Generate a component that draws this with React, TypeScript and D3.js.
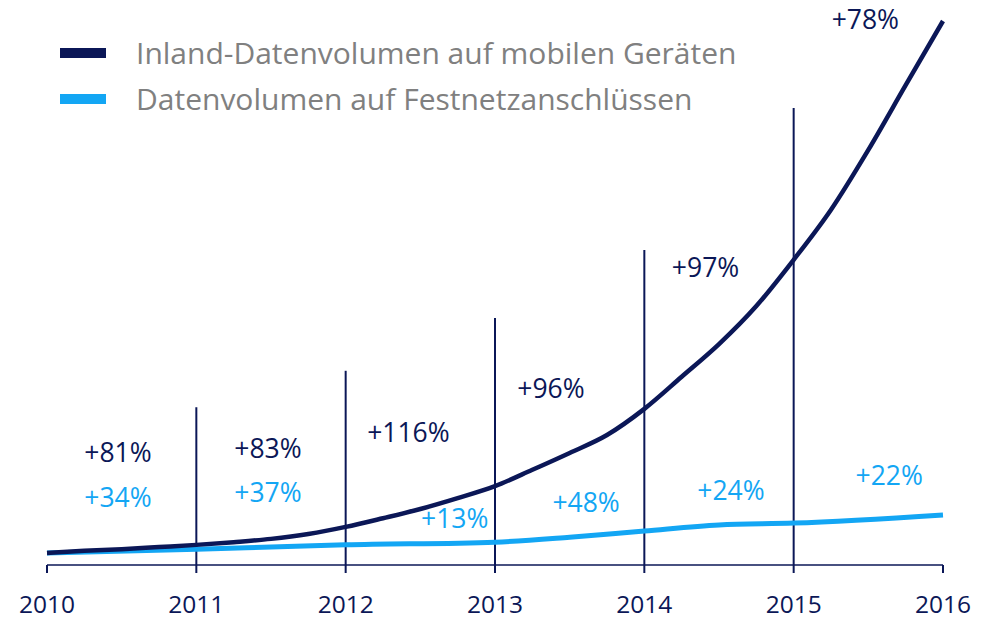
import React from "react";
import * as d3 from "d3";

const years = [2010, 2011, 2012, 2013, 2014, 2015, 2016];
const yearLabels = ["2010", "2011", "2012", "2013", "2014", "2015", "2016"];

// index values (mobile 2016 = 100)
const mobileX = [2010, 2010.25, 2010.5, 2010.75, 2011, 2011.25, 2011.5, 2011.75, 2012, 2012.25, 2012.5, 2012.75, 2013, 2013.25, 2013.5, 2013.75, 2014, 2014.25, 2014.5, 2014.75, 2015, 2015.25, 2015.5, 2015.75, 2016];
const mobileY = [2.2, 2.6, 2.9, 3.3, 3.7, 4.2, 4.8, 5.7, 7.0, 8.6, 10.3, 12.3, 14.5, 17.5, 20.6, 23.9, 28.7, 34.6, 40.6, 47.6, 56.1, 65.3, 76.3, 88.2, 100];

const fixedX = [2010, 2011, 2011.5, 2012, 2013, 2013.5, 2014, 2014.5, 2015, 2016];
const fixedY = [2.2, 2.9, 3.3, 3.7, 4.2, 5.1, 6.25, 7.35, 7.7, 9.2];

const dividerYears = [2011, 2012, 2013, 2014, 2015];
const dividerTops = [29.0, 35.7, 45.4, 57.9, 84.0];

const mobileLabels = ["+81%", "+83%", "+116%", "+96%", "+97%", "+78%"];
const mobileLabelX = [2010.475, 2011.48, 2012.42, 2013.375, 2014.41, 2015.48];
const mobileLabelY = [20.6, 21.3, 24.3, 32.4, 54.6, 100.2];

const fixedLabels = ["+34%", "+37%", "+13%", "+48%", "+24%", "+22%"];
const fixedLabelX = [2010.475, 2011.48, 2012.73, 2013.61, 2014.58, 2015.64];
const fixedLabelY = [12.3, 13.2, 8.5, 11.4, 13.6, 16.4];

const seriesNames = ["Inland-Datenvolumen auf mobilen Geräten", "Datenvolumen auf Festnetzanschlüssen"];

const DARK = "#0b1757";
const LIGHT = "#13a6f4";
const GRAY = "#808080";
const FONT = "'Open Sans', sans-serif";

export default function App() {
  const W = 989, H = 620;
  const x = d3.scaleLinear().domain([2010, 2016]).range([47, 943]);
  const y = d3.scaleLinear().domain([0, 100]).range([565, 21]);

  const line = d3
    .line<[number, number]>()
    .x((d) => x(d[0]))
    .y((d) => y(d[1]))
    .curve(d3.curveMonotoneX);

  const mobilePts: [number, number][] = mobileX.map((v, i) => [v, mobileY[i]]);
  const fixedPts: [number, number][] = fixedX.map((v, i) => [v, fixedY[i]]);

  const legendColors = [DARK, LIGHT];

  return (
    <svg width={W} height={H} style={{ position: "absolute", left: 0, top: 0, background: "#fff" }} fontFamily={FONT}>
      {/* legend */}
      {seriesNames.map((name, i) => (
        <g key={name} transform={`translate(0, ${53 + i * 46})`}>
          <rect x={60} y={-5} width={46} height={10} fill={legendColors[i]} />
          <text x={136} y={0} dy="0.35em" fontSize={30} fill={GRAY}>
            {name}
          </text>
        </g>
      ))}

      {/* dividers */}
      {dividerYears.map((yr, i) => (
        <line key={yr} x1={x(yr)} x2={x(yr)} y1={y(dividerTops[i])} y2={y(0)} stroke={DARK} strokeWidth={2} />
      ))}

      {/* axis */}
      <line x1={x(2010)} x2={x(2016)} y1={y(0)} y2={y(0)} stroke={DARK} strokeWidth={1.5} />
      {years.map((yr, i) => (
        <g key={yr}>
          <line x1={x(yr)} x2={x(yr)} y1={y(0)} y2={y(0) + 8} stroke={DARK} strokeWidth={2} />
          <text x={x(yr)} y={613} textAnchor="middle" fontSize={24.5} fill={DARK}>
            {yearLabels[i]}
          </text>
        </g>
      ))}

      {/* lines */}
      <path d={line(fixedPts) || ""} fill="none" stroke={LIGHT} strokeWidth={5} />
      <path d={line(mobilePts) || ""} fill="none" stroke={DARK} strokeWidth={4.5} />

      {/* labels */}
      {mobileLabels.map((t, i) => (
        <text key={"m" + i} x={x(mobileLabelX[i])} y={y(mobileLabelY[i])} dy="0.35em" textAnchor="middle" fontSize={26.5} fill={DARK}>
          {t}
        </text>
      ))}
      {fixedLabels.map((t, i) => (
        <text key={"f" + i} x={x(fixedLabelX[i])} y={y(fixedLabelY[i])} dy="0.35em" textAnchor="middle" fontSize={26.5} fill={LIGHT}>
          {t}
        </text>
      ))}
    </svg>
  );
}
